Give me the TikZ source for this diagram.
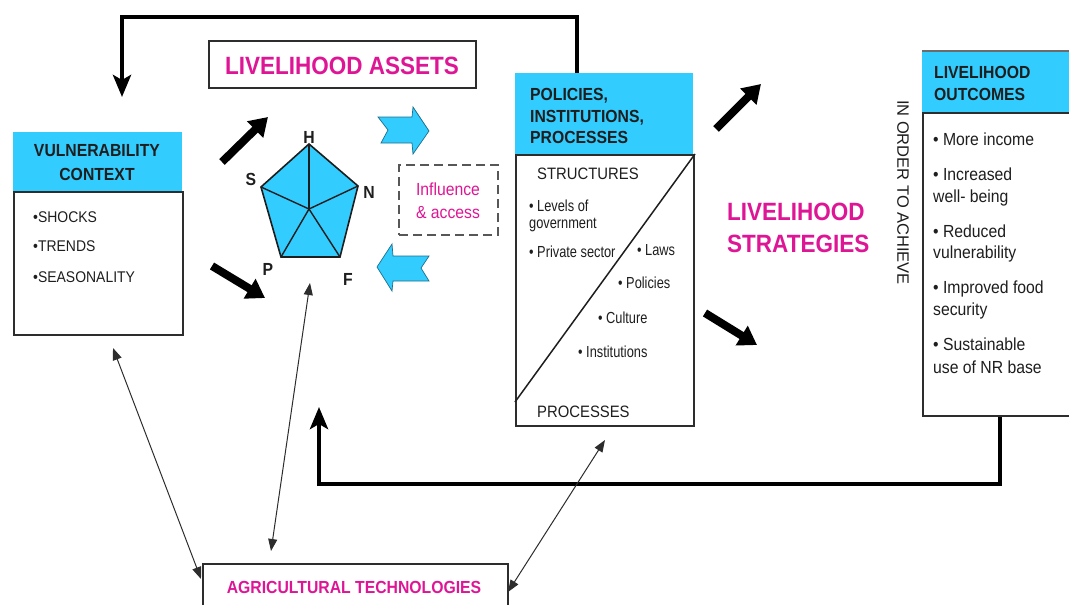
\documentclass[tikz,border=0pt]{standalone}
\usepackage{fontspec}
\setmainfont{Liberation Sans}[FakeStretch=0.9]
\newfontfamily\nar{Liberation Sans}[FakeStretch=0.8]
\newfontfamily\plainsans{Liberation Sans}
\usetikzlibrary{arrows.meta}
\definecolor{cyanbox}{RGB}{51,204,255}
\definecolor{mag}{RGB}{222,22,150}
\definecolor{ink}{RGB}{30,30,30}
\definecolor{frame}{RGB}{45,45,45}
\newcommand{\fs}[1]{\fontsize{#1}{#1}\selectfont}
\tikzset{
  txt/.style={inner sep=0pt, anchor=base west, text=ink},
  ctxt/.style={inner sep=0pt, anchor=base, text=ink},
  hdr/.style={fill=cyanbox, draw=none},
  body/.style={draw=frame, line width=2pt, fill=white},
  bigarrow/.style={line width=8pt, -{Triangle[length=18pt,width=22pt]}, black},
  feedback/.style={line width=4.5pt, -{Stealth[length=22pt,width=18pt,inset=5pt]}, black},
  thin/.style={line width=1pt, {Triangle[length=12pt,width=9pt]}-{Triangle[length=12pt,width=9pt]}, frame},
  block/.style={fill=cyanbox, draw=cyanbox!55!black, line width=0.7pt, line join=miter},
}
\begin{document}
\begin{tikzpicture}[x=1pt,y=-1pt]
\useasboundingbox (0,0) rectangle (1069,605);
\clip (0,0) rectangle (1069,605);
\fill[white] (0,0) rectangle (1069,605);

% ---- Vulnerability context
\node[hdr, minimum width=169pt, minimum height=59pt, anchor=north west, inner sep=0pt] (vchdr) at (13,132) {};
\node[body, minimum width=169pt, minimum height=143pt, anchor=north west, inner sep=0pt] (vc) at (13,191) {};
\node[ctxt, font=\bfseries\fs{17.5}] (vc1) at (97,156) {VULNERABILITY};
\node[ctxt, font=\bfseries\fs{17.5}] (vc2) at (97,180) {CONTEXT};
\node[txt, font=\fs{15.5}] (vci1) at (33,222.5) {•SHOCKS};
\node[txt, font=\fs{15.5}] (vci2) at (33,251.5) {•TRENDS};
\node[txt, font=\fs{15.5}] (vci3) at (33,282.5) {•SEASONALITY};

% ---- Livelihood assets
\node[draw=frame, line width=2pt, minimum width=267pt, minimum height=47pt, anchor=north west, inner sep=0pt] (la) at (208,40) {};
\node[inner sep=0pt, anchor=base, text=mag, font=\bfseries\fs{25}] (latxt) at (342,74) {LIVELIHOOD ASSETS};

% ---- Pentagon
\coordinate (pH) at (309,144);
\coordinate (pN) at (358,186);
\coordinate (pF) at (340,257);
\coordinate (pP) at (281,257);
\coordinate (pS) at (261,187);
\coordinate (pC) at (309,209);
\draw[fill=cyanbox, draw=ink, line width=1.6pt, line join=miter] (pH)--(pN)--(pF)--(pP)--(pS)--cycle;
\foreach \v in {pH,pN,pF,pP,pS} \draw[ink, line width=1.4pt] (pC)--(\v);
\node[ctxt, font=\bfseries\fs{17.5}] (lH) at (309,143) {H};
\node[ctxt, font=\bfseries\fs{17.5}] (lS) at (251,185) {S};
\node[ctxt, font=\bfseries\fs{17.5}] (lN) at (369,198) {N};
\node[ctxt, font=\bfseries\fs{17.5}] (lP) at (268,275) {P};
\node[ctxt, font=\bfseries\fs{17.5}] (lF) at (348,285) {F};

% ---- Big black arrows
\coordinate (a1s) at (222,162); \coordinate (a1e) at (268,117);
\coordinate (a2s) at (212,266); \coordinate (a2e) at (265,298);
\coordinate (a3s) at (716,129); \coordinate (a3e) at (761,84);
\coordinate (a4s) at (705,313); \coordinate (a4e) at (757,345);
\draw[bigarrow] (a1s) -- (a1e);
\draw[bigarrow] (a2s) -- (a2e);
\draw[bigarrow] (a3s) -- (a3e);
\draw[bigarrow] (a4s) -- (a4e);

% ---- Cyan block arrows
\draw[block] (378,117) -- (412,117) -- (413,107) -- (429,131) -- (413,154) -- (412,143) -- (381,143) -- (388,130) -- cycle;
\draw[block] (377,267) -- (392,244) -- (393,256) -- (429,256) -- (421,268) -- (429,281) -- (393,281) -- (392,291) -- cycle;

% ---- Influence & access
\node[draw=frame!80, dashed, dash pattern=on 9pt off 5pt, line width=2pt, minimum width=99pt, minimum height=70pt, anchor=north west, inner sep=0pt] (inf) at (398,164) {};
\node[inner sep=0pt, anchor=base, text=mag, font=\fs{17.5}] (inf1) at (448,195) {Influence};
\node[inner sep=0pt, anchor=base, text=mag, font=\fs{17.5}] (inf2) at (448,218) {\& access};

% ---- Policies, institutions, processes
\node[hdr, minimum width=178pt, minimum height=81pt, anchor=north west, inner sep=0pt] (pohdr) at (515,73) {};
\node[body, minimum width=178pt, minimum height=271pt, anchor=north west, inner sep=0pt] (pol) at (515,154) {};
\draw[ink, line width=1.5pt] (pol.north east) -- (515,402);
\node[txt, font=\bfseries\fs{17.5}] (po1) at (530,100) {POLICIES,};
\node[txt, font=\bfseries\fs{17.5}] (po2) at (530,122) {INSTITUTIONS,};
\node[txt, font=\bfseries\fs{17.5}] (po3) at (530,143) {PROCESSES};
\node[txt, font=\fs{16.5}] (st) at (537,179) {STRUCTURES};
\node[txt, font=\nar\fs{16}] (s1) at (529,211) {• Levels of};
\node[txt, font=\nar\fs{16}] (s2) at (529,228) {government};
\node[txt, font=\nar\fs{16}] (s3) at (529,257) {• Private sector};
\node[txt, font=\nar\fs{16}] (p1) at (637,255) {• Laws};
\node[txt, font=\nar\fs{16}] (p2) at (618,288) {• Policies};
\node[txt, font=\nar\fs{16}] (p3) at (598,323) {• Culture};
\node[txt, font=\nar\fs{16}] (p4) at (578,357) {• Institutions};
\node[txt, font=\fs{16.5}] (pr) at (537,417) {PROCESSES};

% ---- Livelihood strategies
\node[txt, text=mag, font=\bfseries\fs{25}] (ls1) at (727,220) {LIVELIHOOD};
\node[txt, text=mag, font=\bfseries\fs{25}] (ls2) at (727,252) {STRATEGIES};

% ---- In order to achieve
\node[inner sep=0pt, rotate=-90, text=ink, font=\plainsans\fs{16.5}] (ioa) at (903,192.5) {IN ORDER TO ACHIEVE};

% ---- Livelihood outcomes
\node[fill=cyanbox, draw=none, minimum width=160pt, minimum height=61pt, anchor=north west, inner sep=0pt] (lohdr) at (922,51) {};
\draw[frame!70, line width=1.5pt] (lohdr.north west) -- (lohdr.north east);
\node[body, minimum width=160pt, minimum height=303pt, anchor=north west, inner sep=0pt] (lo) at (922,112) {};
\node[txt, font=\bfseries\fs{17.5}] (lo1) at (934,78) {LIVELIHOOD};
\node[txt, font=\bfseries\fs{17.5}] (lo2) at (934,100) {OUTCOMES};
\node[txt, font=\fs{17.5}] (o1) at (933,145) {• More income};
\node[txt, font=\fs{17.5}] (o2) at (933,180) {• Increased};
\node[txt, font=\fs{17.5}] (o2b) at (933,202) {well- being};
\node[txt, font=\fs{17.5}] (o3) at (933,237) {• Reduced};
\node[txt, font=\fs{17.5}] (o3b) at (933,258) {vulnerability};
\node[txt, font=\fs{17.5}] (o4) at (933,293) {• Improved food};
\node[txt, font=\fs{17.5}] (o4b) at (933,315) {security};
\node[txt, font=\fs{17.5}] (o5) at (933,350) {• Sustainable};
\node[txt, font=\fs{17.5}] (o5b) at (933,373) {use of NR base};

% ---- Agricultural technologies
\node[body, minimum width=305pt, minimum height=60pt, anchor=north west, inner sep=0pt] (ag) at (202,563) {};
\node[inner sep=0pt, anchor=base, text=mag, font=\bfseries\fs{17.5}] (agt) at (354,593) {AGRICULTURAL TECHNOLOGIES};

% ---- Feedback loops
\coordinate (fbt1) at (577,17);
\coordinate (fbt2) at (122,17);
\coordinate (fbtend) at (122,97);
\draw[feedback] (pohdr.north -| fbt1) |- (fbt2) -- (fbtend);
\coordinate (fbb1) at (1000,484);
\coordinate (fbb2) at (319,484);
\coordinate (fbbend) at (319,407);
\draw[feedback] (lo.south -| fbb1) -- (fbb1) -- (fbb2) -- (fbbend);

% ---- Thin double arrows
\coordinate (t1a) at (113,348); \coordinate (t1b) at (201,579);
\coordinate (t2a) at (310,283); \coordinate (t2b) at (271,551);
\coordinate (t3a) at (605,440); \coordinate (t3b) at (508,592);
\draw[thin] (t1a) -- (t1b);
\draw[thin] (t2a) -- (t2b);
\draw[thin] (t3a) -- (t3b);
\end{tikzpicture}
\end{document}
